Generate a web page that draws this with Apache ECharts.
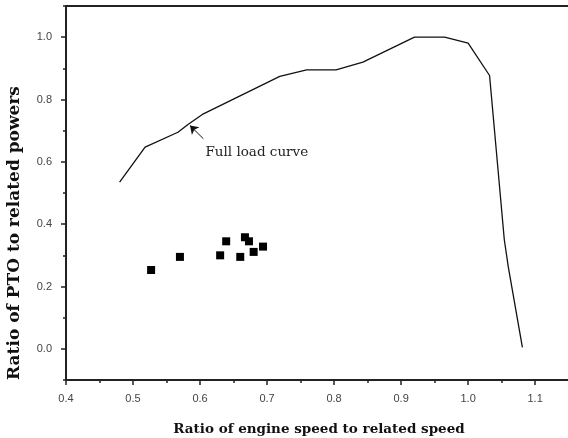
<!DOCTYPE html>
<html>
<head>
<meta charset="utf-8">
<script src="https://cdn.jsdelivr.net/npm/echarts@6/dist/echarts.min.js"></script>
<style>html,body{margin:0;padding:0;background:#fff;}#c{width:568px;height:438px;}</style>
</head>
<body>
<div id="c"></div>
<script>
const curveX = [0.480, 0.518, 0.567, 0.582, 0.605, 0.719, 0.759, 0.803, 0.843, 0.920, 0.965, 1.000, 1.032, 1.054, 1.060, 1.081];
const curveY = [0.535, 0.647, 0.695, 0.720, 0.754, 0.874, 0.895, 0.895, 0.920, 1.000, 1.000, 0.981, 0.877, 0.350, 0.262, 0.005];
const pointsX = [0.527, 0.570, 0.630, 0.639, 0.660, 0.667, 0.673, 0.680, 0.694];
const pointsY = [0.253, 0.295, 0.300, 0.345, 0.295, 0.358, 0.345, 0.311, 0.328];
const yMajor = [0.0, 0.2, 0.4, 0.6, 0.8, 1.0];
const yMinor = [-0.1, 0.1, 0.3, 0.5, 0.7, 0.9, 1.1];
const xTitle = 'Ratio of engine speed to related speed';
const yTitle = 'Ratio of PTO to related powers';
const annotation = 'Full load curve';
const arrowFrom = [0.605, 0.674];
const arrowTo = [0.585, 0.7165];
const labelAt = [0.608, 0.631];

const chart = echarts.init(document.getElementById('c'), null, {renderer: 'canvas'});
const labelStyle = {color: '#444', fontFamily: 'Liberation Sans, Arial, sans-serif', fontSize: 11};
const titleStyle = {color: '#111', fontFamily: 'DejaVu Serif, serif', fontWeight: 'bold', fontSize: 13.5};
chart.setOption({
  animation: false,
  grid: {left: 66, top: 6, right: -4, bottom: 58, outerBoundsMode: 'none', containLabel: false, show: true, borderColor: '#222', borderWidth: 2, backgroundColor: 'transparent'},
  xAxis: [{
    type: 'value', min: 0.4, max: 1.155, interval: 0.1,
    axisLine: {show: true, onZero: false, lineStyle: {color: '#222', width: 2}},
    axisTick: {show: true, inside: false, length: 5, lineStyle: {color: '#222', width: 1.5}},
    minorTick: {show: true, splitNumber: 2, length: 3, lineStyle: {color: '#222', width: 1.5}},
    splitLine: {show: false},
    axisLabel: Object.assign({margin: 13, showMaxLabel: false, formatter: v => v.toFixed(1)}, labelStyle),
    name: xTitle, nameLocation: 'middle', nameGap: 42, nameTextStyle: Object.assign({}, titleStyle, {padding: [0, 0, 0, 0]})
  }],
  yAxis: [{
    type: 'value', min: -0.1, max: 1.1, interval: 0.1,
    axisLine: {show: true, onZero: false, lineStyle: {color: '#222', width: 2}},
    axisTick: {show: true, length: 5, customValues: yMajor, lineStyle: {color: '#222', width: 1.5}},
    splitLine: {show: false},
    axisLabel: Object.assign({margin: 14, customValues: yMajor, formatter: v => v.toFixed(1)}, labelStyle),
    name: yTitle, nameLocation: 'middle', nameGap: 43,
    nameTextStyle: Object.assign({}, titleStyle, {fontSize: 17, padding: [0, 80, 0, 0]})
  }, {
    type: 'value', min: -0.1, max: 1.1, interval: 0.1, position: 'left',
    axisLine: {show: false},
    axisTick: {show: true, length: 3, customValues: yMinor, lineStyle: {color: '#222', width: 1.5}},
    axisLabel: {show: false},
    splitLine: {show: false}
  }],
  series: [{
    type: 'line',
    data: curveX.map((x, i) => [x, curveY[i]]),
    showSymbol: false, symbol: 'none',
    lineStyle: {color: '#111', width: 1.3},
    markLine: {
      silent: true, symbol: ['none', 'arrow'], symbolSize: 8,
      lineStyle: {color: '#111', width: 1, type: 'solid'},
      label: {show: false},
      data: [[{coord: arrowFrom}, {coord: arrowTo}]]
    },
    markPoint: {
      silent: true, symbol: 'circle', symbolSize: 0,
      label: {show: true, position: 'right', distance: 0, formatter: annotation, color: '#222', fontFamily: 'DejaVu Serif, serif', fontSize: 13.5},
      data: [{coord: labelAt}]
    }
  }, {
    type: 'scatter',
    data: pointsX.map((x, i) => [x, pointsY[i]]),
    symbol: 'rect', symbolSize: 8,
    itemStyle: {color: '#000', opacity: 1}
  }]
});
</script>
</body>
</html>
